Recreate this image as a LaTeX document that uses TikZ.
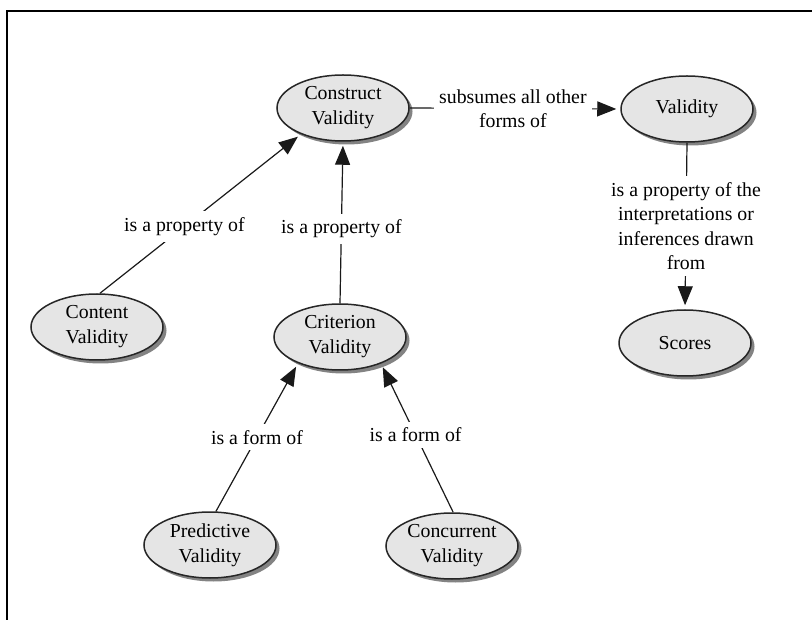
\documentclass[tikz,border=0pt]{standalone}
\usepackage{fontspec}
\setmainfont{Liberation Serif}
\usetikzlibrary{arrows.meta,shapes.geometric,shadows}
\begin{document}
\begin{tikzpicture}[x=1pt,y=-1pt,
  concept/.style={ellipse, draw=black!85, line width=1.5pt, fill=black!10,
    minimum width=132pt, minimum height=66pt, inner sep=0pt, align=center,
    font=\fontsize{19.8}{25}\selectfont,
    drop shadow={shadow xshift=3.5pt, shadow yshift=-3.5pt, fill=black!65, opacity=0.75}},
  link/.style={line width=1.2pt, draw=black!90},
  linkarrow/.style={link, -{Triangle[length=19pt,width=15pt]}, shorten >=4pt},
  lbl/.style={fill=white, inner xsep=5pt, inner ysep=6pt, align=center,
    font=\fontsize{19.8}{24.5}\selectfont},
]
\useasboundingbox (0,0) rectangle (812,620);

% frame
\draw[line width=2.5pt, line join=miter] (7,620) -- (7,11) -- (812,11);

% concepts
\node[concept] (construct)  at (343,108) {Construct\\Validity};
\node[concept] (validity)   at (687,109) {Validity};
\node[concept] (content)    at (97,327)  {Content\\Validity};
\node[concept] (criterion)  at (340,337) {Criterion\\Validity};
\node[concept] (scores)     at (685,343) {Scores};
\node[concept] (predictive) at (210,545) {Predictive\\Validity};
\node[concept] (concurrent) at (452,546) {Concurrent\\Validity};

% linking phrases
\draw[linkarrow] (construct.east) -- node[lbl,pos=0.49]{subsumes all other\\forms of} (validity.west);
\draw[linkarrow] (validity.south) -- node[lbl,pos=0.5]{is a property of the\\interpretations or\\inferences drawn\\from} (scores.north);
\draw[linkarrow] (content.85) -- node[lbl,pos=0.42]{is a property of} (construct.212);
\draw[linkarrow] (criterion.north) -- node[lbl,pos=0.46]{is a property of} (construct.south);
\draw[linkarrow] (predictive.80) -- node[lbl,pos=0.5]{is a form of} (criterion.212);
\draw[linkarrow] (concurrent.88) -- node[lbl,pos=0.52]{is a form of} (criterion.327);
\end{tikzpicture}
\end{document}
